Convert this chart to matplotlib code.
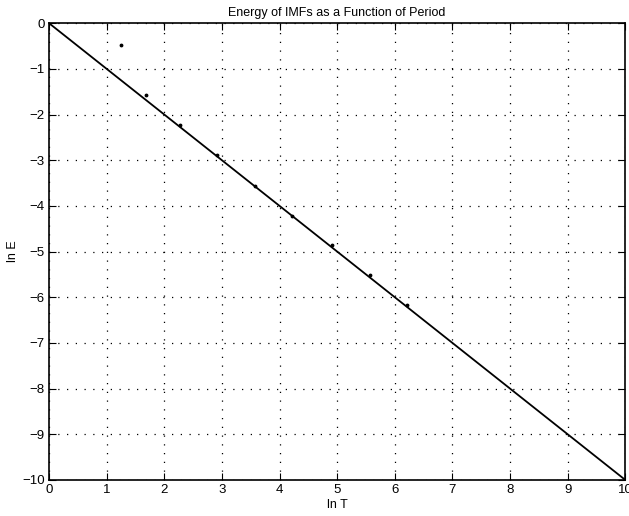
import numpy as np
import matplotlib
matplotlib.use("Agg")
import matplotlib.pyplot as plt

plt.rcParams['font.family'] = ['Liberation Sans', 'DejaVu Sans']

# log period vs log energy of each IMF
ln_T = [1.25, 1.68, 2.28, 2.92, 3.57, 4.22, 4.91, 5.57, 6.21]
ln_E = [-0.47, -1.57, -2.23, -2.89, -3.56, -4.22, -4.86, -5.51, -6.17]

# reference line of slope -1
fit_x = [0, 10]
fit_y = [0, -10]

fig = plt.figure(figsize=(6.29, 5.16), dpi=100)
ax = fig.add_axes([0.078, 0.070, 0.916, 0.885])

ax.plot(fit_x, fit_y, color='black', linewidth=1.3)
ax.plot(ln_T, ln_E, 'k.', markersize=3.5)

ax.set_xlim(0, 10)
ax.set_ylim(-10, 0)
ax.set_xticks(np.arange(0, 11, 1))
ax.set_yticks(np.arange(-10, 1, 1))
ax.grid(True, linestyle=(0, (1, 6)), color='black', linewidth=0.9)
ax.tick_params(direction='in', top=True, right=True, length=5,
               labelsize=9.5, pad=3)
for spine in ax.spines.values():
    spine.set_linewidth(1.2)

ax.set_title('Energy of IMFs as a Function of Period', fontsize=9, pad=5)
ax.set_xlabel('ln T', fontsize=9, labelpad=2)
ax.set_ylabel('ln E', fontsize=9, labelpad=2)

fig.savefig('out.png', dpi=100)
